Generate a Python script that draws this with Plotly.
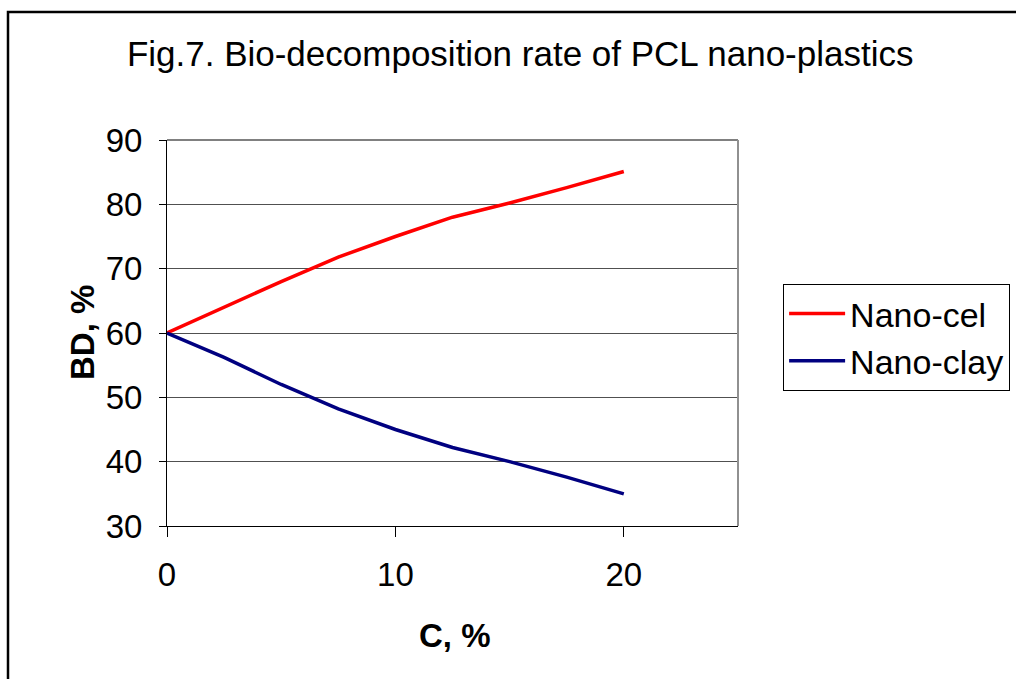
import plotly.graph_objects as go

conc = [0, 2.5, 5, 7.5, 10, 12.5, 15, 17.5, 20]
nano_cel = [60, 64, 68, 71.8, 75, 78, 80.2, 82.6, 85.1]
nano_clay = [60, 56.2, 52, 48.2, 45, 42.2, 40, 37.6, 35]

x_ticks = [0, 10, 20]
y_ticks = [30, 40, 50, 60, 70, 80, 90]

FONT = "Liberation Sans, Arial, sans-serif"

fig = go.Figure()
fig.add_trace(go.Scatter(x=conc, y=nano_cel, mode="lines", name="Nano-cel",
                         line=dict(color="#FF0000", width=3.5)))
fig.add_trace(go.Scatter(x=conc, y=nano_clay, mode="lines", name="Nano-clay",
                         line=dict(color="#000080", width=3.5)))

fig.update_layout(
    width=1016, height=679,
    margin=dict(l=167, r=278, t=140, b=153, autoexpand=False),
    paper_bgcolor="white", plot_bgcolor="white",
    font=dict(family=FONT, color="black", size=33),
    title=dict(text="Fig.7. Bio-decomposition rate of PCL nano-plastics",
               x=0.512, xref="container", xanchor="center",
               y=1 - 54 / 679, yref="container", yanchor="middle",
               font=dict(size=35, family=FONT, color="black")),
    xaxis=dict(range=[0, 25], tickvals=x_ticks, ticks="outside", ticklen=10,
               tickcolor="black", showline=True, linecolor="black", linewidth=1,
               showgrid=False, zeroline=False, ticklabelstandoff=9,
               tickfont=dict(size=33)),
    yaxis=dict(range=[30, 90], tickvals=y_ticks, ticks="outside", ticklen=7,
               tickcolor="black", showline=True, linecolor="black", linewidth=1,
               showgrid=True, gridcolor="#505050", gridwidth=1, zeroline=False,
               ticklabelstandoff=10, tickfont=dict(size=33)),
    legend=dict(x=1.079, y=0.627, xanchor="left", yanchor="top",
                bordercolor="black", borderwidth=1, bgcolor="white",
                itemwidth=56,
                font=dict(size=34, family=FONT)),
    showlegend=True,
)

# plot area border on top/right (gray)
fig.add_shape(type="line", xref="paper", yref="paper", x0=0, x1=1, y0=1, y1=1,
              line=dict(color="#808080", width=2))
fig.add_shape(type="line", xref="paper", yref="paper", x0=1, x1=1, y0=0, y1=1,
              line=dict(color="#909090", width=2))

# outer chart frame
fig.add_shape(type="rect", xref="paper", yref="paper",
              x0=(8 - 167) / 571, x1=(1030 - 167) / 571,
              y0=(526 - 700) / 386, y1=(526 - 12) / 386,
              line=dict(color="black", width=2.5), layer="below")

fig.add_annotation(text="<b>C, %</b>", xref="paper", yref="paper",
                   x=0.504, y=(526 - 635) / 386, xanchor="center", yanchor="middle",
                   showarrow=False, font=dict(size=33, family=FONT))
fig.add_annotation(text="<b>BD, %</b>", xref="paper", yref="paper",
                   x=(82 - 167) / 571, y=0.5, xanchor="center", yanchor="middle",
                   textangle=-90, showarrow=False, font=dict(size=33, family=FONT))

fig.write_html("out.html")
